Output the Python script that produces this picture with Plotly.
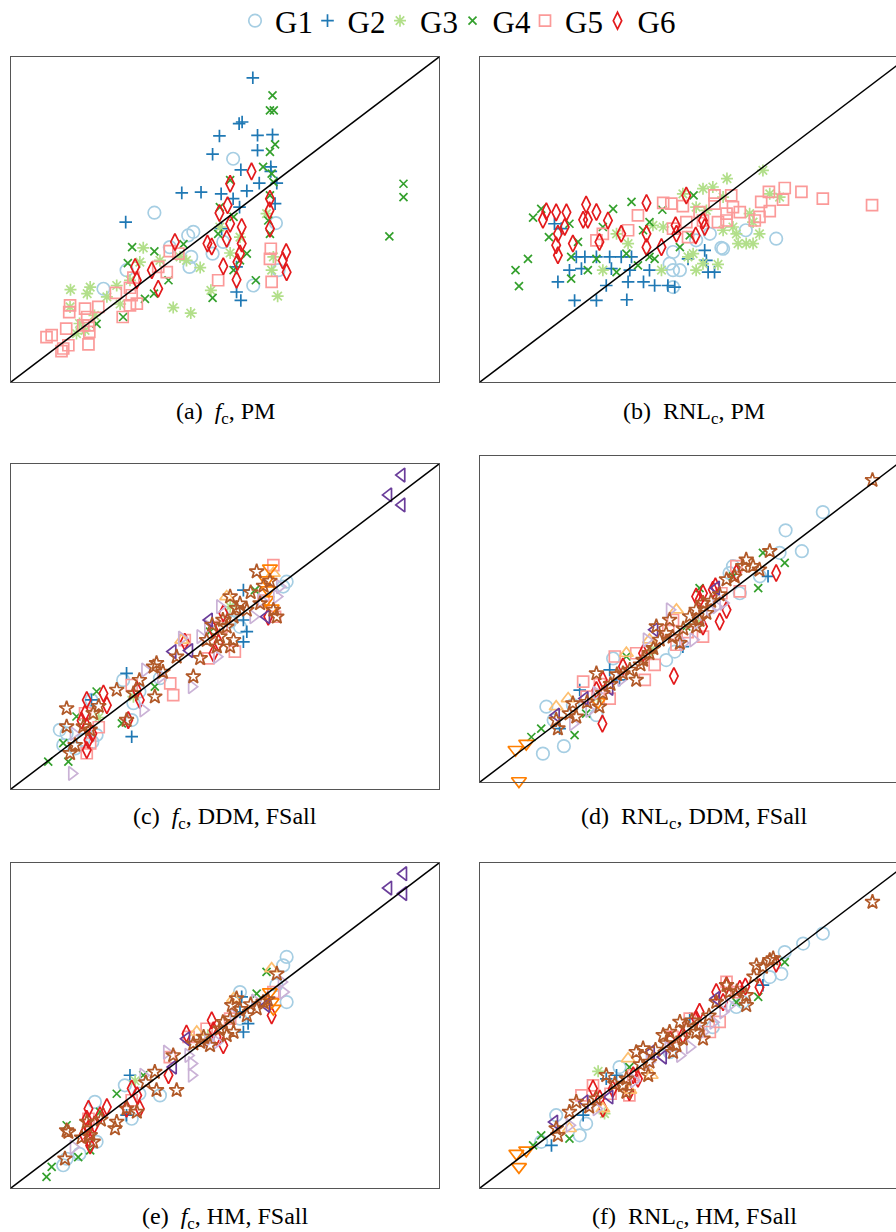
import plotly.graph_objects as go

# Identity line (predicted = measured), same units on both axes
DIAG = [0, 100]

# ---------------- (a) f_c, PM ----------------
A_G1 = [(51.9, 68.7), (33.5, 52.1), (42.6, 46.2), (41.4, 45.1), (37.1, 41.5), (42.1, 38.5), (41.7, 35.4),
        (47.1, 39.5), (49.6, 43.1), (61.9, 48.9), (56.6, 29.7), (62.5, 34.4), (27.0, 34.4), (21.6, 28.7)]
A_G2 = [(56.5, 93.6), (54.0, 80.0), (53.3, 79.5), (48.7, 75.7), (57.6, 75.9), (61.1, 76.1), (57.6, 71.3),
        (47.1, 70.1), (53.7, 65.3), (60.7, 66.2), (58.0, 61.2), (62.1, 61.2), (55.1, 58.8), (39.9, 58.2),
        (44.4, 58.4), (49.1, 57.9), (51.9, 56.4), (53.4, 53.8), (61.7, 54.9), (26.8, 49.2), (49.2, 47.2),
        (52.7, 35.4), (52.7, 27.7), (53.7, 25.1), (60.7, 64.8)]
A_G3 = [(30.9, 41.3), (51.2, 39.7), (44.2, 35.2), (41.0, 37.4), (13.9, 28.4), (18.5, 29.2), (17.8, 27.2),
        (24.7, 29.7), (22.4, 26.2), (37.9, 22.9), (42.0, 21.2), (46.7, 28.2), (62.3, 26.4), (60.9, 34.4),
        (61.3, 38.5), (30.1, 36.9), (27.8, 31.3), (15.3, 14.9), (17.3, 15.9), (13.8, 23.1), (39.5, 38.5),
        (34.8, 37.4), (48.8, 47.7), (59.7, 51.8), (53.5, 44.6), (19.5, 20.5), (16.0, 18.0), (25.5, 24.0)]
A_G4 = [(61.1, 88.2), (60.5, 83.6), (61.4, 83.6), (61.7, 73.1), (60.5, 70.8), (58.9, 66.2), (60.9, 64.1),
        (61.3, 61.5), (51.2, 62.1), (91.7, 61.0), (91.7, 56.9), (88.4, 44.8), (60.5, 57.4), (60.1, 49.7),
        (60.5, 45.6), (48.8, 53.8), (48.4, 45.6), (52.0, 50.8), (55.1, 39.5), (57.2, 31.3), (47.1, 25.9),
        (28.3, 41.5), (33.5, 40.2), (40.3, 42.4), (27.3, 36.6), (36.8, 31.3), (31.3, 25.6), (33.4, 27.2),
        (26.2, 20.0), (20.0, 17.9), (52.0, 34.4), (53.5, 37.4)]
A_G5 = [(8.3, 13.8), (9.5, 14.4), (12.2, 10.3), (13.4, 11.3), (12.9, 16.4), (13.8, 23.6), (13.6, 21.5),
        (17.3, 22.6), (17.8, 20.0), (18.1, 17.4), (18.3, 15.4), (18.1, 11.6), (16.9, 17.4), (20.4, 23.1),
        (24.5, 27.4), (26.1, 20.0), (27.8, 23.6), (28.2, 26.7), (27.8, 29.0), (28.6, 32.1), (29.4, 24.1),
        (34.4, 35.4), (36.4, 33.8), (37.1, 40.3), (39.1, 39.5), (48.4, 31.3), (60.7, 41.0), (60.5, 37.9),
        (60.9, 30.8), (11.8, 9.5)]
A_G6 = [(56.2, 64.8), (51.2, 61.0), (50.6, 54.4), (48.7, 52.0), (51.2, 48.7), (53.9, 47.7), (60.5, 56.4),
        (60.4, 52.8), (60.5, 47.2), (53.9, 42.6), (53.5, 39.5), (45.9, 42.6), (46.9, 41.7), (38.3, 43.1),
        (49.6, 35.6), (52.9, 36.9), (52.7, 31.5), (64.3, 40.0), (63.5, 37.4), (64.4, 33.8), (29.0, 35.4),
        (29.4, 31.3), (32.9, 34.4), (34.4, 28.7), (50.4, 44.1)]

# ---------------- (b) RNL_c, PM ----------------
B_G1 = [(69.2, 44.1), (62.1, 46.7), (56.4, 41.3), (56.8, 41.0), (45.1, 40.0), (44.3, 36.4), (46.7, 34.4),
        (45.1, 34.4), (45.1, 29.2), (50.5, 43.6), (53.7, 45.6)]
B_G2 = [(18.2, 30.8), (22.1, 25.1), (27.2, 25.1), (34.3, 25.3), (29.5, 29.7), (34.6, 30.8), (38.2, 30.8),
        (40.8, 29.7), (43.9, 29.7), (45.5, 29.2), (20.9, 34.4), (23.7, 34.9), (22.5, 38.5), (24.5, 38.5),
        (27.2, 38.5), (30.3, 38.5), (33.0, 38.5), (35.4, 38.5), (30.7, 34.9), (35.0, 34.4), (39.6, 34.4),
        (52.5, 40.5), (52.9, 37.4), (53.3, 33.8), (54.8, 33.8), (48.6, 37.9), (17.4, 48.7), (19.0, 47.2)]
B_G3 = [(66.1, 65.1), (57.7, 62.6), (52.1, 59.5), (54.4, 60.0), (56.8, 56.9), (70.0, 56.9), (67.7, 57.9),
        (63.0, 51.8), (63.8, 49.2), (65.3, 45.6), (59.9, 45.6), (62.2, 42.6), (63.8, 42.6), (60.3, 42.6),
        (56.8, 46.7), (59.1, 47.7), (55.6, 36.2), (52.1, 36.4), (50.5, 34.4), (48.6, 38.5), (49.8, 39.5),
        (42.4, 34.4), (28.7, 34.4), (34.6, 42.6), (31.9, 45.6), (40.4, 48.2), (42.8, 47.7), (50.5, 53.8),
        (52.9, 52.8), (47.4, 57.9)]
B_G4 = [(49.9, 57.4), (35.4, 55.4), (31.1, 53.3), (42.6, 53.0), (39.6, 49.2), (12.4, 50.6), (14.3, 53.3),
        (20.9, 48.7), (16.1, 44.6), (11.2, 37.9), (8.3, 34.4), (9.1, 29.5), (21.3, 31.8), (21.3, 38.5),
        (25.2, 34.4), (27.2, 37.9), (31.9, 33.8), (34.2, 39.5), (36.9, 35.9), (39.6, 38.5), (40.8, 37.9),
        (38.1, 46.7), (46.7, 41.5), (49.0, 45.1), (22.9, 43.1), (28.7, 47.7)]
B_G5 = [(91.6, 54.4), (80.1, 56.4), (75.1, 58.5), (71.2, 59.7), (67.5, 58.5), (65.7, 55.4), (67.7, 52.6),
        (65.3, 50.8), (64.2, 49.7), (70.8, 56.1), (58.7, 57.4), (54.8, 57.4), (54.8, 54.9), (59.1, 53.8),
        (60.7, 52.3), (57.6, 51.8), (55.6, 49.2), (57.6, 49.7), (51.3, 52.3), (52.1, 49.7), (48.2, 49.2),
        (44.7, 54.9), (42.8, 55.1), (47.4, 54.1), (36.9, 51.3), (34.6, 46.7), (28.7, 45.6), (27.2, 43.6),
        (45.1, 47.2), (48.6, 44.6)]
B_G6 = [(48.2, 57.4), (38.9, 55.1), (14.7, 49.9), (15.5, 52.5), (17.8, 52.2), (20.2, 52.2), (24.8, 54.6),
        (27.2, 52.3), (24.1, 49.9), (25.2, 49.9), (29.9, 49.7), (18.2, 45.6), (19.8, 47.7), (17.8, 42.1),
        (18.2, 39.0), (21.7, 42.6), (27.9, 43.1), (33.0, 45.6), (38.9, 45.6), (38.9, 41.5), (42.4, 41.5),
        (45.7, 48.2), (45.9, 45.6), (50.4, 45.1), (52.5, 47.7), (52.1, 49.7)]

# ---------------- (c) f_c, DDM, FSall ----------------
C_G1 = [(12.2, 13.5), (13.0, 17.1), (20.0, 16.6), (18.8, 27.4), (16.9, 15.1), (11.4, 18.2), (28.2, 21.2),
        (26.2, 33.5), (28.6, 26.4), (34.8, 34.1), (53.5, 49.9), (64.4, 63.8), (63.6, 62.3), (51.2, 51.5),
        (19.0, 14.5), (15.0, 12.5), (30.0, 30.0), (52.0, 55.0)]
C_G2 = [(54.3, 61.2), (55.1, 48.4), (54.3, 45.3), (27.0, 35.6), (18.8, 27.4), (28.2, 16.1), (54.3, 52.0)]
C_G3 = [(28.6, 28.4), (51.2, 56.1), (20.5, 22.0)]
C_G4 = [(8.7, 8.4), (13.4, 8.4), (12.2, 14.1), (20.0, 30.0), (57.0, 61.2), (33.6, 31.5), (25.9, 20.2),
        (46.5, 48.4), (15.3, 22.3)]
C_G5 = [(61.3, 68.9), (61.7, 53.0), (52.3, 42.3), (46.1, 40.2), (40.6, 45.8), (37.9, 28.9), (37.2, 32.5),
        (28.2, 32.0), (17.7, 11.0), (17.3, 23.3), (49.2, 49.9), (18.5, 14.0), (20.5, 19.0), (59.0, 58.0)]
C_G6 = [(17.7, 27.4), (17.3, 23.3), (17.7, 19.2), (18.1, 15.1), (17.7, 12.0), (21.6, 29.4), (22.4, 25.8),
        (29.4, 30.5), (30.1, 27.4), (27.4, 21.2), (40.6, 45.3), (47.3, 41.7), (49.6, 54.1), (60.1, 53.0),
        (47.3, 48.9), (19.0, 17.0), (16.5, 21.0), (48.5, 45.0)]
C_G7 = [(50.4, 59.2), (61.3, 66.4), (39.9, 45.8)]
C_G8 = [(60.5, 67.9), (59.7, 64.3), (60.1, 61.2), (59.7, 58.2), (60.9, 55.6)]
C_G9 = [(14.2, 4.8), (42.2, 31.5), (39.9, 46.4), (48.8, 56.1), (48.1, 40.7), (62.8, 62.3), (62.1, 59.2),
        (30.9, 24.3), (31.3, 36.6), (35.0, 34.6), (44.2, 46.9), (56.6, 53.0), (14.6, 17.1), (58.5, 58.0),
        (46.0, 50.0)]
C_G10 = [(91.3, 96.6), (88.2, 90.5), (91.3, 87.4), (46.3, 52.0), (37.8, 42.3), (41.7, 42.6), (59.7, 53.0)]
C_G11 = [(13.0, 24.8), (13.0, 19.2), (13.8, 11.0), (19.2, 23.3), (18.5, 18.2), (16.9, 19.2), (24.7, 30.5),
         (27.0, 21.2), (28.6, 29.4), (33.6, 28.4), (34.0, 38.7), (33.3, 37.6), (42.6, 34.6), (44.2, 40.2),
         (38.7, 40.7), (45.7, 45.8), (48.8, 46.9), (51.2, 43.8), (50.4, 49.9), (52.0, 53.0), (51.2, 59.2),
         (52.7, 55.6), (57.4, 66.9), (58.2, 57.1), (62.1, 53.0), (48.1, 43.8), (52.0, 45.8), (61.3, 55.1),
         (55.1, 55.1), (47.0, 50.5), (49.5, 52.0), (53.5, 57.0), (56.0, 60.5), (59.0, 62.5), (60.5, 64.0),
         (35.5, 36.0), (30.0, 33.5), (20.5, 25.5), (15.0, 13.5)]

# ---------------- (d) RNL_c, DDM, FSall ----------------
D_G1 = [(80.1, 82.8), (71.4, 77.2), (75.2, 70.8), (70.0, 70.3), (59.1, 66.2), (60.7, 57.9), (58.3, 64.1),
        (65.4, 63.1), (14.7, 8.7), (19.6, 11.0), (15.5, 23.1), (17.2, 19.0), (31.1, 37.9), (43.5, 37.4),
        (45.5, 40.0), (27.2, 20.5), (21.7, 23.6)]
D_G2 = [(67.3, 63.1), (30.3, 34.4), (23.3, 28.2), (18.6, 16.4), (47.4, 41.5), (32.6, 31.3)]
D_G3 = [(27.5, 26.0), (40.0, 40.5), (51.0, 49.0)]
D_G4 = [(65.0, 59.5), (71.2, 67.2), (66.1, 70.3), (51.3, 59.5), (59.1, 63.1), (48.2, 47.7), (24.8, 21.0),
        (22.1, 14.4), (14.3, 16.4), (12.0, 13.8), (34.2, 38.5)]
D_G5 = [(59.9, 66.2), (60.7, 58.5), (52.1, 44.6), (45.1, 49.7), (45.9, 42.1), (40.8, 35.9), (38.5, 31.3),
        (31.5, 38.5), (24.1, 30.8), (24.9, 26.2), (30.3, 25.6), (56.4, 57.9), (44.0, 46.5), (48.5, 46.0),
        (28.0, 30.0), (36.5, 39.5)]
D_G6 = [(69.2, 64.1), (28.6, 17.9), (45.3, 32.5), (56.0, 49.2), (57.6, 52.8), (50.5, 56.9), (51.3, 55.9),
        (52.1, 57.9), (54.4, 59.0), (55.0, 60.0), (52.1, 47.7), (38.1, 39.5), (33.4, 35.4), (28.7, 31.3),
        (27.2, 28.2), (59.9, 64.1)]
D_G7 = [(34.2, 39.5), (17.8, 23.1), (20.6, 25.6), (39.6, 43.6), (45.9, 52.8)]
D_G8 = [(8.3, 9.9), (10.8, 11.8), (9.1, 0.3), (27.6, 24.6)]
D_G9 = [(53.7, 52.8), (55.2, 53.8), (56.8, 54.9), (49.8, 43.6), (47.4, 42.6), (38.9, 43.6), (27.2, 27.2),
        (21.7, 17.9), (44.3, 52.8), (51.0, 49.0), (33.0, 31.5), (25.5, 22.0)]
D_G10 = [(40.8, 46.7), (55.2, 59.5), (24.5, 25.6), (17.8, 20.5), (30.3, 28.7)]
D_G11 = [(91.7, 92.6), (67.7, 70.8), (62.2, 68.2), (63.8, 66.2), (61.4, 66.2), (65.3, 65.1), (57.6, 62.1),
         (52.1, 54.9), (50.5, 52.8), (49.0, 50.8), (51.3, 49.7), (52.9, 51.8), (44.3, 49.7), (43.5, 45.6),
         (46.7, 42.6), (42.0, 43.6), (41.2, 47.7), (39.6, 39.5), (38.1, 37.4), (36.5, 31.3), (35.0, 34.4),
         (33.4, 33.3), (27.2, 33.3), (28.7, 27.2), (27.9, 23.1), (21.7, 24.1), (20.9, 21.0), (22.5, 20.0),
         (17.8, 19.0), (18.2, 16.4), (50.5, 47.7), (47.5, 47.0), (45.0, 44.5), (54.0, 55.5), (56.0, 57.5),
         (59.5, 63.0), (30.5, 30.0), (25.0, 24.5), (32.0, 33.0), (37.5, 36.0), (40.5, 41.0)]

# ---------------- (e) f_c, HM, FSall ----------------
E_G1 = [(64.4, 71.1), (63.6, 68.5), (64.4, 57.2), (53.5, 60.3), (12.2, 7.0), (13.0, 9.0), (19.6, 26.5),
        (28.2, 21.3), (34.8, 28.5), (26.6, 31.6), (53.5, 52.1), (20.0, 14.2), (62.0, 62.5), (16.0, 10.5),
        (30.0, 29.0)]
E_G2 = [(27.8, 34.7), (27.0, 22.4), (53.9, 58.8), (54.3, 48.0), (55.4, 50.6), (53.5, 54.2)]
E_G3 = [(29.0, 33.0), (46.0, 47.0)]
E_G4 = [(8.3, 3.4), (9.5, 6.5), (15.7, 9.5), (18.5, 11.6), (24.7, 29.0), (13.0, 19.3), (59.7, 66.5),
        (57.4, 59.8), (30.9, 34.7), (20.8, 23.4)]
E_G5 = [(45.7, 49.0), (37.1, 40.3), (28.2, 27.0), (18.1, 21.3), (61.3, 60.3), (51.2, 52.1), (41.5, 46.5)]
E_G6 = [(18.1, 24.4), (17.7, 21.3), (18.1, 18.3), (18.1, 15.2), (18.5, 13.1), (22.4, 24.9), (20.8, 22.4),
        (28.2, 30.6), (30.1, 24.4), (41.0, 47.5), (46.9, 51.6), (47.3, 48.5), (49.6, 43.9), (36.8, 34.7),
        (60.9, 53.1), (27.0, 24.4), (19.5, 19.5), (17.0, 16.5), (48.0, 46.5), (29.5, 28.5)]
E_G7 = [(60.9, 67.5), (52.0, 58.3), (43.4, 48.0)]
E_G8 = [(60.5, 60.3), (60.9, 57.2), (61.3, 55.2)]
E_G9 = [(42.2, 34.7), (42.2, 38.3), (41.4, 40.8), (36.4, 41.8), (63.6, 60.3), (63.2, 63.4), (30.9, 34.7),
        (14.6, 12.6), (48.1, 44.9), (52.0, 53.1), (57.0, 57.5), (46.0, 45.5)]
E_G10 = [(91.7, 96.7), (88.2, 92.3), (91.7, 90.6), (41.0, 45.9), (37.9, 37.2), (59.7, 56.2)]
E_G11 = [(13.0, 17.7), (13.4, 17.2), (12.6, 9.0), (17.7, 20.3), (18.5, 16.2), (19.2, 14.2), (24.7, 20.3),
         (24.3, 18.3), (27.0, 24.4), (29.4, 23.4), (33.6, 35.7), (34.0, 30.1), (38.7, 30.1), (37.9, 40.8),
         (42.6, 44.4), (44.2, 44.9), (46.5, 43.9), (50.4, 47.0), (52.0, 48.0), (51.2, 52.1), (51.6, 56.2),
         (52.7, 58.3), (55.1, 53.1), (57.4, 55.2), (58.9, 57.2), (62.1, 65.9), (48.8, 49.0), (53.5, 55.0),
         (49.5, 51.0), (45.0, 46.5), (56.0, 56.5), (60.0, 58.0), (31.5, 32.5), (21.0, 21.0), (16.5, 15.5)]

# ---------------- (f) RNL_c, HM, FSall ----------------
F_G1 = [(80.1, 78.3), (75.5, 75.2), (71.2, 72.6), (70.4, 65.9), (67.7, 64.9), (59.9, 55.7), (61.4, 57.2),
        (54.4, 49.5), (17.8, 22.4), (23.3, 16.2), (14.3, 14.2), (32.6, 37.2), (24.8, 19.8), (44.3, 41.8)]
F_G2 = [(66.1, 62.4), (16.7, 13.1), (29.5, 33.6), (31.9, 34.7), (24.1, 22.4), (49.0, 52.1)]
F_G3 = [(27.6, 35.9), (29.1, 22.9)]
F_G4 = [(71.2, 69.5), (65.0, 58.8), (14.3, 16.2), (12.4, 13.1), (34.9, 37.2), (20.9, 15.2), (59.9, 57.2)]
F_G5 = [(57.6, 63.4), (59.9, 60.3), (56.0, 51.1), (53.7, 48.0), (49.0, 52.1), (26.4, 31.6), (23.7, 28.5),
        (34.9, 28.5), (35.8, 34.7), (45.0, 46.5), (30.5, 29.0)]
F_G6 = [(69.2, 69.0), (65.3, 61.8), (60.7, 61.3), (55.2, 60.3), (57.6, 62.4), (51.3, 54.2), (50.5, 52.1),
        (47.4, 47.0), (36.9, 33.6), (34.9, 29.5), (35.8, 34.7), (26.4, 30.6), (28.0, 27.5), (28.7, 24.4),
        (56.8, 57.2), (62.0, 62.0), (44.5, 45.5), (31.0, 30.5)]
F_G7 = [(34.6, 39.8), (40.0, 34.7), (20.9, 18.3), (35.0, 30.1), (28.7, 24.4)]
F_G8 = [(8.5, 10.6), (10.8, 11.6), (9.1, 6.5)]
F_G9 = [(46.7, 40.8), (49.0, 43.4), (52.1, 48.0), (56.8, 54.2), (58.3, 56.2), (39.6, 38.8), (27.2, 24.4),
        (20.9, 19.3), (44.0, 43.0), (54.5, 51.0), (36.0, 33.0)]
F_G10 = [(42.8, 40.3), (55.2, 58.3), (17.4, 20.3), (30.3, 28.0), (24.5, 26.5), (40.0, 41.8)]
F_G11 = [(91.7, 88.0), (64.6, 68.5), (66.1, 68.0), (67.7, 70.1), (68.5, 70.6), (57.6, 62.4), (58.3, 60.3),
         (62.2, 59.3), (62.2, 56.2), (51.3, 50.1), (50.5, 48.0), (52.1, 45.9), (48.2, 49.0), (47.4, 45.9),
         (45.9, 43.9), (45.1, 41.8), (42.8, 47.0), (44.3, 48.0), (46.7, 51.1), (38.1, 42.9), (36.5, 41.8),
         (39.6, 38.8), (39.3, 34.7), (34.2, 33.6), (33.4, 31.6), (34.2, 29.5), (29.5, 34.7), (27.2, 27.5),
         (22.5, 26.5), (20.9, 23.4), (17.8, 18.3), (18.2, 16.2), (55.2, 57.2), (53.5, 53.0), (49.5, 51.5),
         (43.5, 44.5), (41.0, 42.5), (37.5, 38.0), (31.5, 32.0), (25.5, 25.0), (60.0, 60.5), (64.0, 65.0)]

# Group styling (Paired palette)
GROUPS = ["G1", "G2", "G3", "G4", "G5", "G6", "G7", "G8", "G9", "G10", "G11"]
LEGEND_GROUPS = ["G1", "G2", "G3", "G4", "G5", "G6"]
COLORS = {"G1": "#a6cee3", "G2": "#1f78b4", "G3": "#b2df8a", "G4": "#33a02c", "G5": "#fb9a99",
          "G6": "#e31a1c", "G7": "#fdbf6f", "G8": "#ff7f00", "G9": "#cab2d6", "G10": "#6a3d9a",
          "G11": "#b15928"}
SYMBOLS = {"G1": "circle-open", "G2": "cross-thin-open", "G3": "asterisk-open", "G4": "x-thin-open",
           "G5": "square-open", "G6": "diamond-tall-open", "G7": "triangle-up-open",
           "G8": "triangle-down-open", "G9": "triangle-right-open", "G10": "triangle-left-open",
           "G11": "star-open"}
SIZES = {"G1": 12.5, "G2": 9, "G3": 10, "G4": 8, "G5": 11, "G6": 12, "G7": 12, "G8": 13,
         "G9": 12, "G10": 12, "G11": 11}

W, H = 896, 1232
LEFT_X = (11 / W, 439 / W)
RIGHT_X = (480 / W, 1.0)
RIGHT_XMAX = (W - 480) / 428 * 100


def ydom(top, bottom):
    return (1 - bottom / H, 1 - top / H)


PANELS = [
    dict(data={"G1": A_G1, "G2": A_G2, "G3": A_G3, "G4": A_G4, "G5": A_G5, "G6": A_G6},
         xd=LEFT_X, yd=ydom(57, 382), xmax=100, full=True,
         cap="(a)\u00a0 <i>f</i><sub>c</sub>, PM", cx=225, cy=413),
    dict(data={"G1": B_G1, "G2": B_G2, "G3": B_G3, "G4": B_G4, "G5": B_G5, "G6": B_G6},
         xd=RIGHT_X, yd=ydom(57, 382), xmax=RIGHT_XMAX, full=False,
         cap="(b)\u00a0 RNL<sub>c</sub>, PM", cx=694, cy=413),
    dict(data={"G1": C_G1, "G2": C_G2, "G3": C_G3, "G4": C_G4, "G5": C_G5, "G6": C_G6,
               "G7": C_G7, "G8": C_G8, "G9": C_G9, "G10": C_G10, "G11": C_G11},
         xd=LEFT_X, yd=ydom(464, 789), xmax=100, full=True,
         cap="(c)\u00a0 <i>f</i><sub>c</sub>, DDM, FSall", cx=225, cy=818),
    dict(data={"G1": D_G1, "G2": D_G2, "G3": D_G3, "G4": D_G4, "G5": D_G5, "G6": D_G6,
               "G7": D_G7, "G8": D_G8, "G9": D_G9, "G10": D_G10, "G11": D_G11},
         xd=RIGHT_X, yd=ydom(456, 782), xmax=RIGHT_XMAX, full=False,
         cap="(d)\u00a0 RNL<sub>c</sub>, DDM, FSall", cx=694, cy=818),
    dict(data={"G1": E_G1, "G2": E_G2, "G3": E_G3, "G4": E_G4, "G5": E_G5, "G6": E_G6,
               "G7": E_G7, "G8": E_G8, "G9": E_G9, "G10": E_G10, "G11": E_G11},
         xd=LEFT_X, yd=ydom(863, 1188), xmax=100, full=True,
         cap="(e)\u00a0 <i>f</i><sub>c</sub>, HM, FSall", cx=225, cy=1218),
    dict(data={"G1": F_G1, "G2": F_G2, "G3": F_G3, "G4": F_G4, "G5": F_G5, "G6": F_G6,
               "G7": F_G7, "G8": F_G8, "G9": F_G9, "G10": F_G10, "G11": F_G11},
         xd=RIGHT_X, yd=ydom(863, 1188), xmax=RIGHT_XMAX, full=False,
         cap="(f)\u00a0 RNL<sub>c</sub>, HM, FSall", cx=694, cy=1218),
]

FRAME = "#555555"
SERIF = "Liberation Serif"

fig = go.Figure()
layout = dict(width=W, height=H, margin=dict(l=0, r=0, t=0, b=0, autoexpand=False),
              font=dict(family=SERIF, color="black"),
              paper_bgcolor="white", plot_bgcolor="white", annotations=[])

for i, p in enumerate(PANELS):
    n = "" if i == 0 else str(i + 1)
    xa, ya = "x" + n, "y" + n
    for g in GROUPS:
        pts = p["data"].get(g)
        if not pts:
            continue
        fig.add_trace(go.Scatter(
            x=[v[0] for v in pts], y=[v[1] for v in pts], mode="markers", name=g,
            xaxis=xa, yaxis=ya, legendgroup=g,
            showlegend=(i == 0 and g in LEGEND_GROUPS), cliponaxis=False,
            marker=dict(symbol=SYMBOLS[g], size=SIZES[g], color=COLORS[g],
                        line=dict(width=1.7, color=COLORS[g])),
            hoverinfo="skip"))
    fig.add_trace(go.Scatter(x=DIAG, y=DIAG, mode="lines", xaxis=xa, yaxis=ya, showlegend=False,
                             line=dict(color="black", width=1.5), hoverinfo="skip"))
    layout["xaxis" + n] = dict(domain=list(p["xd"]), range=[0, p["xmax"]], anchor=ya,
                               showline=True, mirror=True, linecolor=FRAME, linewidth=1.3,
                               showgrid=False, zeroline=False, showticklabels=False, ticks="")
    layout["yaxis" + n] = dict(domain=list(p["yd"]), range=[0, 100], anchor=xa,
                               showline=True, mirror=p["full"], linecolor=FRAME, linewidth=1.3,
                               showgrid=False, zeroline=False, showticklabels=False, ticks="")
    layout["annotations"].append(dict(
        text=p["cap"], xref="paper", yref="paper", x=p["cx"] / W, y=1 - p["cy"] / H,
        xanchor="center", yanchor="middle", showarrow=False,
        font=dict(family=SERIF, size=24, color="black")))

# Blank trailing legend slot so the last label is not clipped by the legend box
fig.add_trace(go.Scatter(x=[None], y=[None], mode="markers", name="\u00a0", showlegend=True,
                         marker=dict(size=1, color="rgba(0,0,0,0)"), hoverinfo="skip"))

layout["legend"] = dict(orientation="h", x=235 / W, xanchor="left", y=1 + 6 / H, yanchor="top",
                        font=dict(family=SERIF, size=31, color="black"),
                        bgcolor="rgba(0,0,0,0)", entrywidth=27.5, entrywidthmode="pixels",
                        itemwidth=30, tracegroupgap=0)
fig.update_layout(**layout)

fig.write_html("out.html")
